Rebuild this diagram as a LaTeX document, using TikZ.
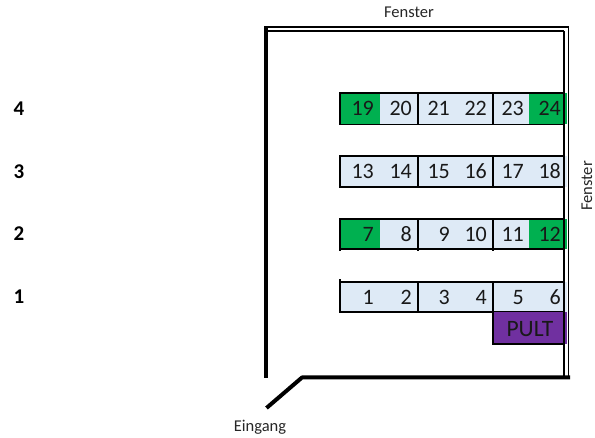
\documentclass[tikz,border=0pt]{standalone}
\usepackage{fontspec}
\setmainfont{Carlito}
\definecolor{seat}{HTML}{DEEAF6}
\definecolor{pultgreen}{HTML}{00B050}
\definecolor{pultpurple}{HTML}{7030A0}
\tikzset{
  num/.style={anchor=base east,inner sep=0pt,font=\fontsize{22}{24}\selectfont,text=black!90},
  rowlabel/.style={anchor=base,inner sep=0pt,font=\fontsize{21}{23}\selectfont\bfseries},
  small/.style={inner sep=0pt,font=\fontsize{16.5}{18}\selectfont,text=black!85},
  tableline/.style={draw=black,line width=1.8pt},
  wall/.style={draw=black,line width=4pt},
  thinwall/.style={draw=black,line width=1.6pt},
}
\begin{document}
\begin{tikzpicture}[x=1pt,y=-1pt]
\useasboundingbox (0,0) rectangle (595,438);
\foreach \t/\b in {93/124.5,156/187,219/249,282/312}{
  \fill[seat] (340,\t) rectangle (567,\b);
}
\foreach \t/\b in {93/124.5,219/249}{
  \fill[pultgreen] (340,\t) rectangle (380,\b);
  \fill[pultgreen] (529,\t) rectangle (567,\b);
}
\foreach \t/\b in {93/124.5,156/187,219/249,282/312}{
  \draw[tableline] (564,\t) -- (340,\t) -- (340,\b) -- (564,\b);
  \draw[tableline] (418,\t) -- (418,\b);
  \draw[tableline] (493,\t) -- (493,\b);
}
% extra ticks
\draw[tableline] (340,249) -- (340,251.5);
\draw[tableline] (418,249) -- (418,251.5);
\draw[tableline] (493,249) -- (493,251.5);
\draw[tableline] (340,282) -- (340,279.5);
% PULT
\fill[pultpurple] (493,312) rectangle (567,344);
\draw[tableline] (564,344) -- (493,344) -- (493,312);
\node[anchor=base,inner sep=0pt,font=\fontsize{23.5}{25}\selectfont,text=black!90] (pult) at (530,337) {PULT};
% numbers
\foreach \a/\b/\c/\d/\e/\f/\bl in {19/20/21/22/23/24/116,13/14/15/16/17/18/179,7/8/9/10/11/12/242,1/2/3/4/5/6/305}{
  \node[num] (n\a) at (374,\bl) {\a};
  \node[num] (n\b) at (412,\bl) {\b};
  \node[num] (n\c) at (450,\bl) {\c};
  \node[num] (n\d) at (487,\bl) {\d};
  \node[num] (n\e) at (524,\bl) {\e};
  \node[num] (n\f) at (561,\bl) {\f};
}
\foreach \lab/\bl in {4/116,3/179,2/241,1/304}{
  \node[rowlabel] (r\lab) at (19,\bl) {\lab};
}
% walls
\draw[thinwall] (264,27) -- (569,27);
\draw[thinwall] (264,31) -- (564,31);
\draw[thinwall] (564,31) -- (564,376);
\draw[thinwall] (568.5,26.4) -- (568.5,376);
\draw[wall] (265.5,26.4) -- (265.5,378);
\draw[wall,line join=round] (570,377.5) -- (302,377.5) -- (266.5,408);
% labels
\node[small,anchor=base] (f1) at (409,18) {Fenster};
\node[small,anchor=base,rotate=90] (f2) at (592,186) {Fenster};
\node[small,anchor=base] (e) at (260,432) {Eingang};
\end{tikzpicture}
\end{document}
